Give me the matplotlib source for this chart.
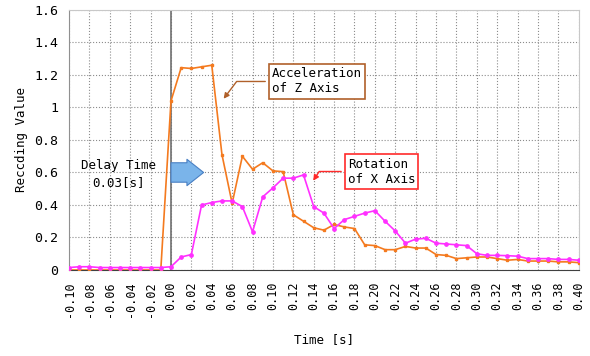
import matplotlib
matplotlib.use('Agg')
import matplotlib.pyplot as plt
import numpy as np


TIME = np.round(np.arange(-0.10, 0.401, 0.01), 2)

ACCEL_Z = [0.0, 0.0, 0.0, 0.0, 0.0, 0.0, 0.0, 0.0, 0.0, 0.0,
           1.04, 1.245, 1.24, 1.25, 1.26, 0.71, 0.41, 0.70, 0.62, 0.66,
           0.61, 0.605, 0.34, 0.30, 0.26, 0.245, 0.28, 0.265, 0.255, 0.155,
           0.15, 0.125, 0.125, 0.145, 0.135, 0.135, 0.095, 0.09, 0.07, 0.075,
           0.08, 0.08, 0.07, 0.06, 0.065, 0.055, 0.055, 0.055, 0.05, 0.05,
           0.045]

ROTATION_X = [0.015, 0.02, 0.02, 0.015, 0.015, 0.015, 0.015, 0.015, 0.015, 0.015,
              0.02, 0.08, 0.095, 0.40, 0.415, 0.425, 0.425, 0.39, 0.235, 0.45,
              0.505, 0.565, 0.565, 0.585, 0.39, 0.35, 0.255, 0.31, 0.33, 0.35,
              0.365, 0.30, 0.24, 0.165, 0.19, 0.195, 0.165, 0.16, 0.155, 0.15,
              0.10, 0.09, 0.09, 0.088, 0.085, 0.07, 0.07, 0.07, 0.065, 0.065,
              0.06]

X_TICKS = np.round(np.arange(-0.10, 0.401, 0.02), 2)
Y_TICKS = [0, 0.2, 0.4, 0.6, 0.8, 1, 1.2, 1.4, 1.6]

ORANGE = '#f47a1f'
PINK = '#ff30ff'
FONT = 'DejaVu Sans Mono'


def fmt_y(v):
    return '0' if v == 0 else ('1' if v == 1 else f'{v:.1f}')


def main():
    plt.rcParams['font.family'] = FONT
    fig = plt.figure(figsize=(5.9, 3.56), dpi=100)
    ax = fig.add_axes([0.117, 0.2416, 0.864, 0.7304])

    ax.plot(TIME, ACCEL_Z, color=ORANGE, lw=1.2, marker='s', ms=2, zorder=3)
    ax.plot(TIME, ROTATION_X, color=PINK, lw=1.2, marker='o', ms=2.4, zorder=4)
    ax.axvline(0, color='#707070', lw=1.2, zorder=2)

    ax.set_xlim(-0.10, 0.40)
    ax.set_ylim(0, 1.6)
    ax.set_xticks(X_TICKS)
    ax.set_xticklabels([f'{t:.2f}' for t in X_TICKS], rotation=90, fontsize=8.5)
    ax.set_yticks(Y_TICKS)
    ax.set_yticklabels([fmt_y(v) for v in Y_TICKS], fontsize=9.5)
    ax.tick_params(length=0, pad=8)
    ax.grid(True, ls=':', color='#8c8c8c', lw=0.8)
    ax.set_axisbelow(True)

    for side in ['top', 'right']:
        ax.spines[side].set_color('#c8c8c8')
    ax.spines['left'].set_color('#909090')
    ax.spines['bottom'].set_color('#404040')

    ax.set_ylabel('Reccding Value', fontsize=9)
    ax.set_xlabel('Time [s]', fontsize=9, labelpad=12)

    ax.annotate('Acceleration\nof Z Axis', xy=(0.05, 1.04), xytext=(0.143, 1.16),
                ha='center', va='center', multialignment='left', fontsize=9,
                bbox=dict(boxstyle='square,pad=0.25', fc='white', ec='#b0602a', lw=1.2),
                arrowprops=dict(arrowstyle='-|>', color='#b0602a', lw=1,
                                mutation_scale=8,
                                connectionstyle='angle,angleA=0,angleB=53,rad=0'))
    ax.annotate('Rotation\nof X Axis', xy=(0.138, 0.535), xytext=(0.2064, 0.606),
                ha='center', va='center', multialignment='left', fontsize=9,
                bbox=dict(boxstyle='square,pad=0.25', fc='white', ec='#ff2a2a', lw=1.2),
                arrowprops=dict(arrowstyle='-|>', color='#ff2a2a', lw=1,
                                mutation_scale=8,
                                connectionstyle='angle,angleA=0,angleB=57,rad=0'))

    ax.text(-0.051, 0.59, 'Delay Time\n0.03[s]', ha='center', va='center',
            fontsize=9, linespacing=1.4)
    ax.annotate('', xy=(0.032, 0.6), xytext=(0.0, 0.6),
                arrowprops=dict(arrowstyle='simple,head_length=1.2,head_width=1.9,tail_width=1.4',
                                fc='#7ab4ea', ec='#4a80c4', lw=0.8, mutation_scale=10,
                                shrinkA=0, shrinkB=0), zorder=5)

    fig.savefig('out.png', dpi=100)


if __name__ == '__main__':
    main()
